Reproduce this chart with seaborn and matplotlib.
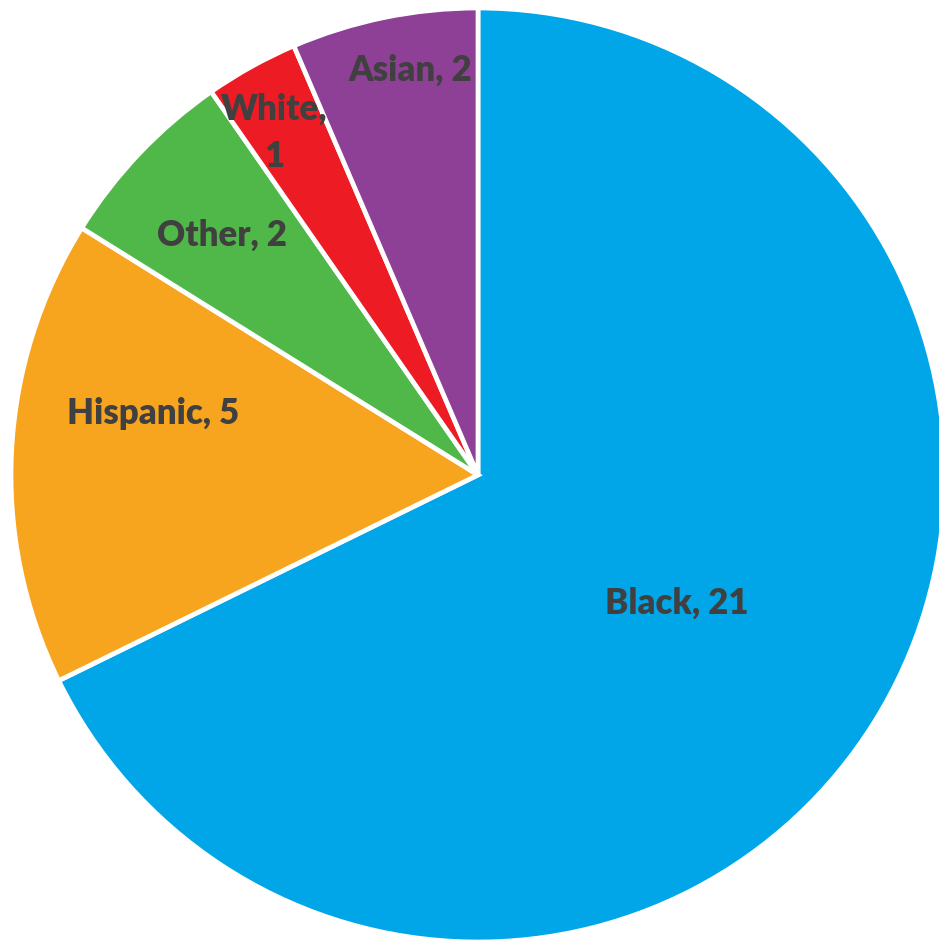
import numpy as np
import matplotlib
matplotlib.use("Agg")
import matplotlib.pyplot as plt
import seaborn as sns

categories = ["Black", "Hispanic", "Other", "White", "Asian"]
values = [21, 5, 2, 1, 2]
label_texts = ["Black, 21", "Hispanic, 5", "Other, 2", "White,\n1", "Asian, 2"]
colors = ["#00A6E8", "#F7A51E", "#50B848", "#ED1C24", "#8E3F96"]

# label placement style (radius fraction, angle tweak in degrees)
label_radius = [0.507, 0.708, 0.751, 0.852, 0.879]
label_angle_shift = [-0.8, -7.9, 0.4, 1.7, -2.1]

sns.set_theme(style="white")
plt.rcParams['font.family'] = ['Lato', 'DejaVu Sans']

fig = plt.figure(figsize=(9.39, 9.42), dpi=100)
ax = fig.add_axes([0, 0, 1, 1])
palette = sns.color_palette(colors)

wedges, _ = ax.pie(values, colors=palette, startangle=90, counterclock=False,
                   radius=1.0, center=(0, 0),
                   wedgeprops=dict(edgecolor="white", linewidth=3.4))

for w, txt, r, sh in zip(wedges, label_texts, label_radius, label_angle_shift):
    mid = np.deg2rad((w.theta1 + w.theta2) / 2 + sh)
    ax.text(r * np.cos(mid), r * np.sin(mid), txt, ha="center", va="center",
            fontsize=25, fontweight="heavy", color="#404040", linespacing=1.55)

R = 467.0
ax.set_xlim(-478 / R, (939 - 478) / R)
ax.set_ylim(-(942 - 475) / R, 475 / R)
ax.set_aspect("auto")
ax.axis("off")

fig.savefig("out.png", dpi=100, facecolor="white")
